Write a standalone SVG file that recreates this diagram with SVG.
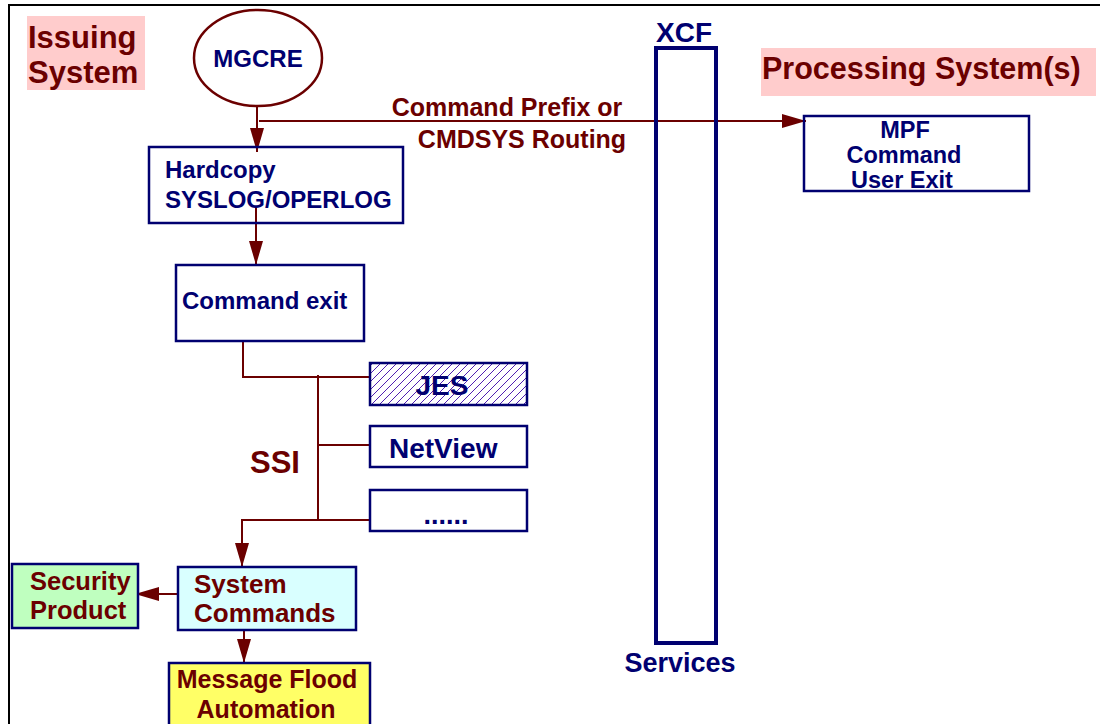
<svg xmlns="http://www.w3.org/2000/svg" width="1100" height="724" viewBox="0 0 1100 724">
<defs>
<style>
text{font-family:"Liberation Sans",Arial,sans-serif;font-weight:bold}
.r{fill:#6b0000}
.n{fill:#000070}
.box{stroke:#000070;stroke-width:2.5}
.c{stroke:#6b0000;stroke-width:2;fill:none}
</style>
<marker id="ahL" viewBox="0 0 24 14" refX="24" refY="7" markerWidth="24" markerHeight="14" markerUnits="userSpaceOnUse" orient="auto">
<path d="M0,0 L24,7 L0,14 z" fill="#6b0000"/>
</marker>
<pattern id="hatch" width="8" height="8" patternUnits="userSpaceOnUse">
<path d="M-2,10 L10,-2 M-2,2 L2,-2 M6,10 L10,6" stroke="#5020b0" stroke-width="1"/>
</pattern>
</defs>
<rect width="1100" height="724" fill="#fff"/>
<path d="M9,724 V5 H1100" fill="none" stroke="#000" stroke-width="2"/>

<g id="issuing-label">
<rect x="27" y="16" width="118" height="74" fill="#ffcccc"/>
<text class="r" x="28" y="48" font-size="31">Issuing</text>
<text class="r" x="28" y="83" font-size="31">System</text>
</g>

<g id="processing-label">
<rect x="761" y="48" width="335" height="48" fill="#ffcccc"/>
<text class="r" x="762" y="79" font-size="30.5">Processing System(s)</text>
</g>

<g id="connectors">
<path class="c" d="M257,107 V152" marker-end="url(#ahL)"/>
<path class="c" d="M259,121 H806" stroke-width="1.5" marker-end="url(#ahL)"/>
<path class="c" d="M256,207 V265" marker-end="url(#ahL)"/>
<path class="c" d="M243,340 V377 H371"/>
<path class="c" d="M318,375 V520"/>
<path class="c" d="M318,445 H371"/>
<path class="c" d="M242,520 H371"/>
<path class="c" d="M242,519 V567" marker-end="url(#ahL)"/>
<path class="c" d="M178,594 H135" marker-end="url(#ahL)"/>
<path class="c" d="M244,612 V663" marker-end="url(#ahL)"/>
</g>

<g id="mgcre">
<ellipse cx="258" cy="58" rx="64" ry="48" fill="#fff" stroke="#6b0000" stroke-width="2.5"/>
<text class="n" x="258" y="67" font-size="24" text-anchor="middle">MGCRE</text>
</g>

<g id="routing-label">
<text class="r" x="507" y="116" font-size="25" text-anchor="middle">Command Prefix or</text>
<text class="r" x="522" y="148" font-size="25" text-anchor="middle">CMDSYS Routing</text>
</g>

<g id="hardcopy">
<rect class="box" x="149" y="147" width="254" height="76" fill="none"/>
<text class="n" x="165" y="178" font-size="24">Hardcopy</text>
<text class="n" x="165" y="208" font-size="24">SYSLOG/OPERLOG</text>
</g>

<g id="command-exit">
<rect class="box" x="176" y="265" width="188" height="76" fill="#fff"/>
<text class="n" x="182" y="309" font-size="24">Command exit</text>
</g>

<g id="jes">
<rect class="box" x="370" y="363" width="157" height="42" fill="url(#hatch)"/>
<text class="n" x="442" y="395" font-size="28" text-anchor="middle">JES</text>
</g>

<g id="netview">
<rect class="box" x="370" y="426" width="157" height="41" fill="#fff"/>
<text class="n" x="389" y="458" font-size="28">NetView</text>
</g>

<g id="dots">
<rect class="box" x="370" y="490" width="157" height="41" fill="#fff"/>
<text class="n" x="446" y="524" font-size="27" text-anchor="middle">......</text>
</g>

<g id="ssi">
<text class="r" x="250" y="473" font-size="31">SSI</text>
</g>

<g id="security-product">
<rect class="box" x="12" y="564" width="126" height="64" fill="#bfffbf"/>
<text class="r" x="30" y="590" font-size="25.5">Security</text>
<text class="r" x="30" y="619" font-size="25.5">Product</text>
</g>

<g id="system-commands">
<rect class="box" x="178" y="567" width="178" height="63" fill="#d9ffff"/>
<text class="r" x="194" y="593" font-size="26">System</text>
<text class="r" x="194" y="622" font-size="26">Commands</text>
</g>

<g id="message-flood">
<rect class="box" x="169" y="663" width="201" height="70" fill="#ffff66"/>
<text class="r" x="267" y="688" font-size="25" text-anchor="middle">Message Flood</text>
<text class="r" x="266" y="718" font-size="25" text-anchor="middle">Automation</text>
</g>

<g id="xcf">
<rect x="656" y="48" width="60" height="595" fill="none" stroke="#000070" stroke-width="4"/>
<text class="n" x="684" y="42" font-size="28" text-anchor="middle">XCF</text>
<text class="n" x="680" y="672" font-size="27" text-anchor="middle">Services</text>
</g>

<g id="mpf">
<rect class="box" x="804" y="116" width="225" height="75" fill="none"/>
<text class="n" x="905" y="138" font-size="23.5" text-anchor="middle">MPF</text>
<text class="n" x="904" y="163" font-size="23.5" text-anchor="middle">Command</text>
<text class="n" x="902" y="188" font-size="23.5" text-anchor="middle">User Exit</text>
</g>
</svg>
